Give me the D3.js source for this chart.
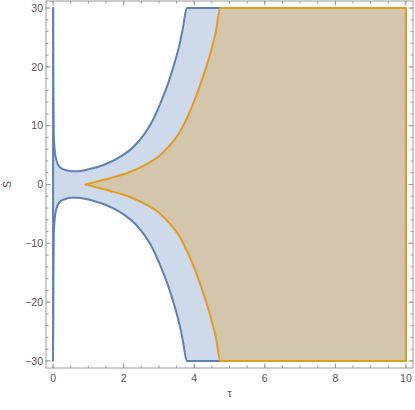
<!DOCTYPE html>
<html>
<head>
<meta charset="utf-8">
<script src="https://cdn.jsdelivr.net/npm/d3@7"></script>
<style>
  body { margin: 0; background: #fff; }
  text { font-family: "Liberation Sans", Arial, sans-serif; }
</style>
</head>
<body>
<div id="chart"></div>
<script>
// upper boundary of the blue region (lower is the mirror image)
var blueTau = [0, 0.004, 0.01, 0.02, 0.048, 0.096, 0.19, 0.33, 0.52, 0.71, 0.90, 1.18, 1.46, 1.75, 2.03, 2.31, 2.5, 2.6, 2.78, 3.02, 3.26, 3.44, 3.59, 3.68, 3.79, 10];
var blueS   = [30, 30, 16, 8.6, 5.8, 4.1, 2.95, 2.5, 2.27, 2.27, 2.44, 2.84, 3.4, 4.2, 5.2, 6.6, 7.9, 8.7, 10.4, 13.5, 17.2, 20.6, 24.0, 26.6, 30, 30];

// upper boundary of the orange region
var orangeTau = [0.92, 1.18, 1.65, 2.12, 2.6, 3.0, 3.3, 3.59, 3.68, 3.92, 4.15, 4.34, 4.48, 4.62, 4.74, 10];
var orangeS   = [0, 0.4, 1.14, 2.0, 3.3, 4.8, 6.6, 8.9, 9.9, 13.0, 16.6, 20, 22.8, 26.2, 30, 30];

// plot range
var tauMin = 0, tauMax = 10;
var sMin = -30, sMax = 30;

var xMajor = [0, 2, 4, 6, 8, 10];
var yMajor = [-30, -20, -10, 0, 10, 20, 30];

var width = 415, height = 410;
var svg = d3.select("#chart").append("svg")
    .attr("width", width)
    .attr("height", height);

var x = d3.scaleLinear().domain([tauMin - 0.2, tauMax + 0.2]).range([46, 413]);
var y = d3.scaleLinear().domain([sMin - 1.2, sMax + 1.2]).range([368, 1]);

var area = d3.area()
    .x(function(d) { return x(d[0]); })
    .y0(function(d) { return y(-d[1]); })
    .y1(function(d) { return y(d[1]); })
    .curve(d3.curveMonotoneX);

function pairs(taus, ss) {
    return taus.map(function(t, i) { return [t, ss[i]]; });
}

var regions = [
    { pts: pairs(blueTau, blueS), color: "#5E81B5" },
    { pts: pairs(orangeTau, orangeS), color: "#E19C24" }
];

regions.forEach(function(r) {
    svg.append("path")
        .attr("d", area(r.pts))
        .attr("fill", r.color)
        .attr("fill-opacity", 0.3)
        .attr("stroke", "none");
});
regions.forEach(function(r) {
    svg.append("path")
        .attr("d", area(r.pts))
        .attr("fill", "none")
        .attr("stroke", r.color)
        .attr("stroke-width", 2)
        .attr("stroke-linejoin", "round");
});

// frame
var frameColor = "#9a9a9a";
svg.append("rect")
    .attr("x", x.range()[0]).attr("y", y.range()[1])
    .attr("width", x.range()[1] - x.range()[0])
    .attr("height", y.range()[0] - y.range()[1])
    .attr("fill", "none")
    .attr("stroke", frameColor)
    .attr("stroke-width", 1);

var xMinor = d3.range(tauMin, tauMax + 0.001, 0.5);
var yMinor = d3.range(sMin, sMax + 0.001, 2);

var ticks = svg.append("g").attr("stroke", frameColor).attr("stroke-width", 1);
function xTicks(vals, len) {
    vals.forEach(function(v) {
        ticks.append("line").attr("x1", x(v)).attr("x2", x(v))
            .attr("y1", y.range()[0]).attr("y2", y.range()[0] - len);
        ticks.append("line").attr("x1", x(v)).attr("x2", x(v))
            .attr("y1", y.range()[1]).attr("y2", y.range()[1] + len);
    });
}
function yTicks(vals, len) {
    vals.forEach(function(v) {
        ticks.append("line").attr("y1", y(v)).attr("y2", y(v))
            .attr("x1", x.range()[0]).attr("x2", x.range()[0] + len);
        ticks.append("line").attr("y1", y(v)).attr("y2", y(v))
            .attr("x1", x.range()[1]).attr("x2", x.range()[1] - len);
    });
}
xTicks(xMinor, 2.5);
xTicks(xMajor, 4.5);
yTicks(yMinor, 2.5);
yTicks(yMajor, 4.5);

var fmt = function(v) { return v < 0 ? "\u2212" + Math.abs(v) : String(v); };

svg.append("g").selectAll("text")
    .data(xMajor)
    .enter().append("text")
    .attr("x", function(d) { return x(d); })
    .attr("y", 382)
    .attr("text-anchor", "middle")
    .attr("font-size", 10.5)
    .attr("fill", "#555")
    .text(fmt);

svg.append("g").selectAll("text")
    .data(yMajor)
    .enter().append("text")
    .attr("x", 43)
    .attr("y", function(d) { return y(d) + 3.8; })
    .attr("text-anchor", "end")
    .attr("font-size", 10.5)
    .attr("fill", "#555")
    .text(fmt);

svg.append("text")
    .attr("x", (x.range()[0] + x.range()[1]) / 2)
    .attr("y", 397)
    .attr("text-anchor", "middle")
    .attr("font-size", 10.5)
    .attr("fill", "#555")
    .text("\u03c4");

svg.append("text")
    .attr("transform", "translate(11," + y(0) + ") rotate(-90)")
    .attr("text-anchor", "middle")
    .attr("font-size", 10.5)
    .attr("fill", "#555")
    .text("\u1e60");
</script>
</body>
</html>
